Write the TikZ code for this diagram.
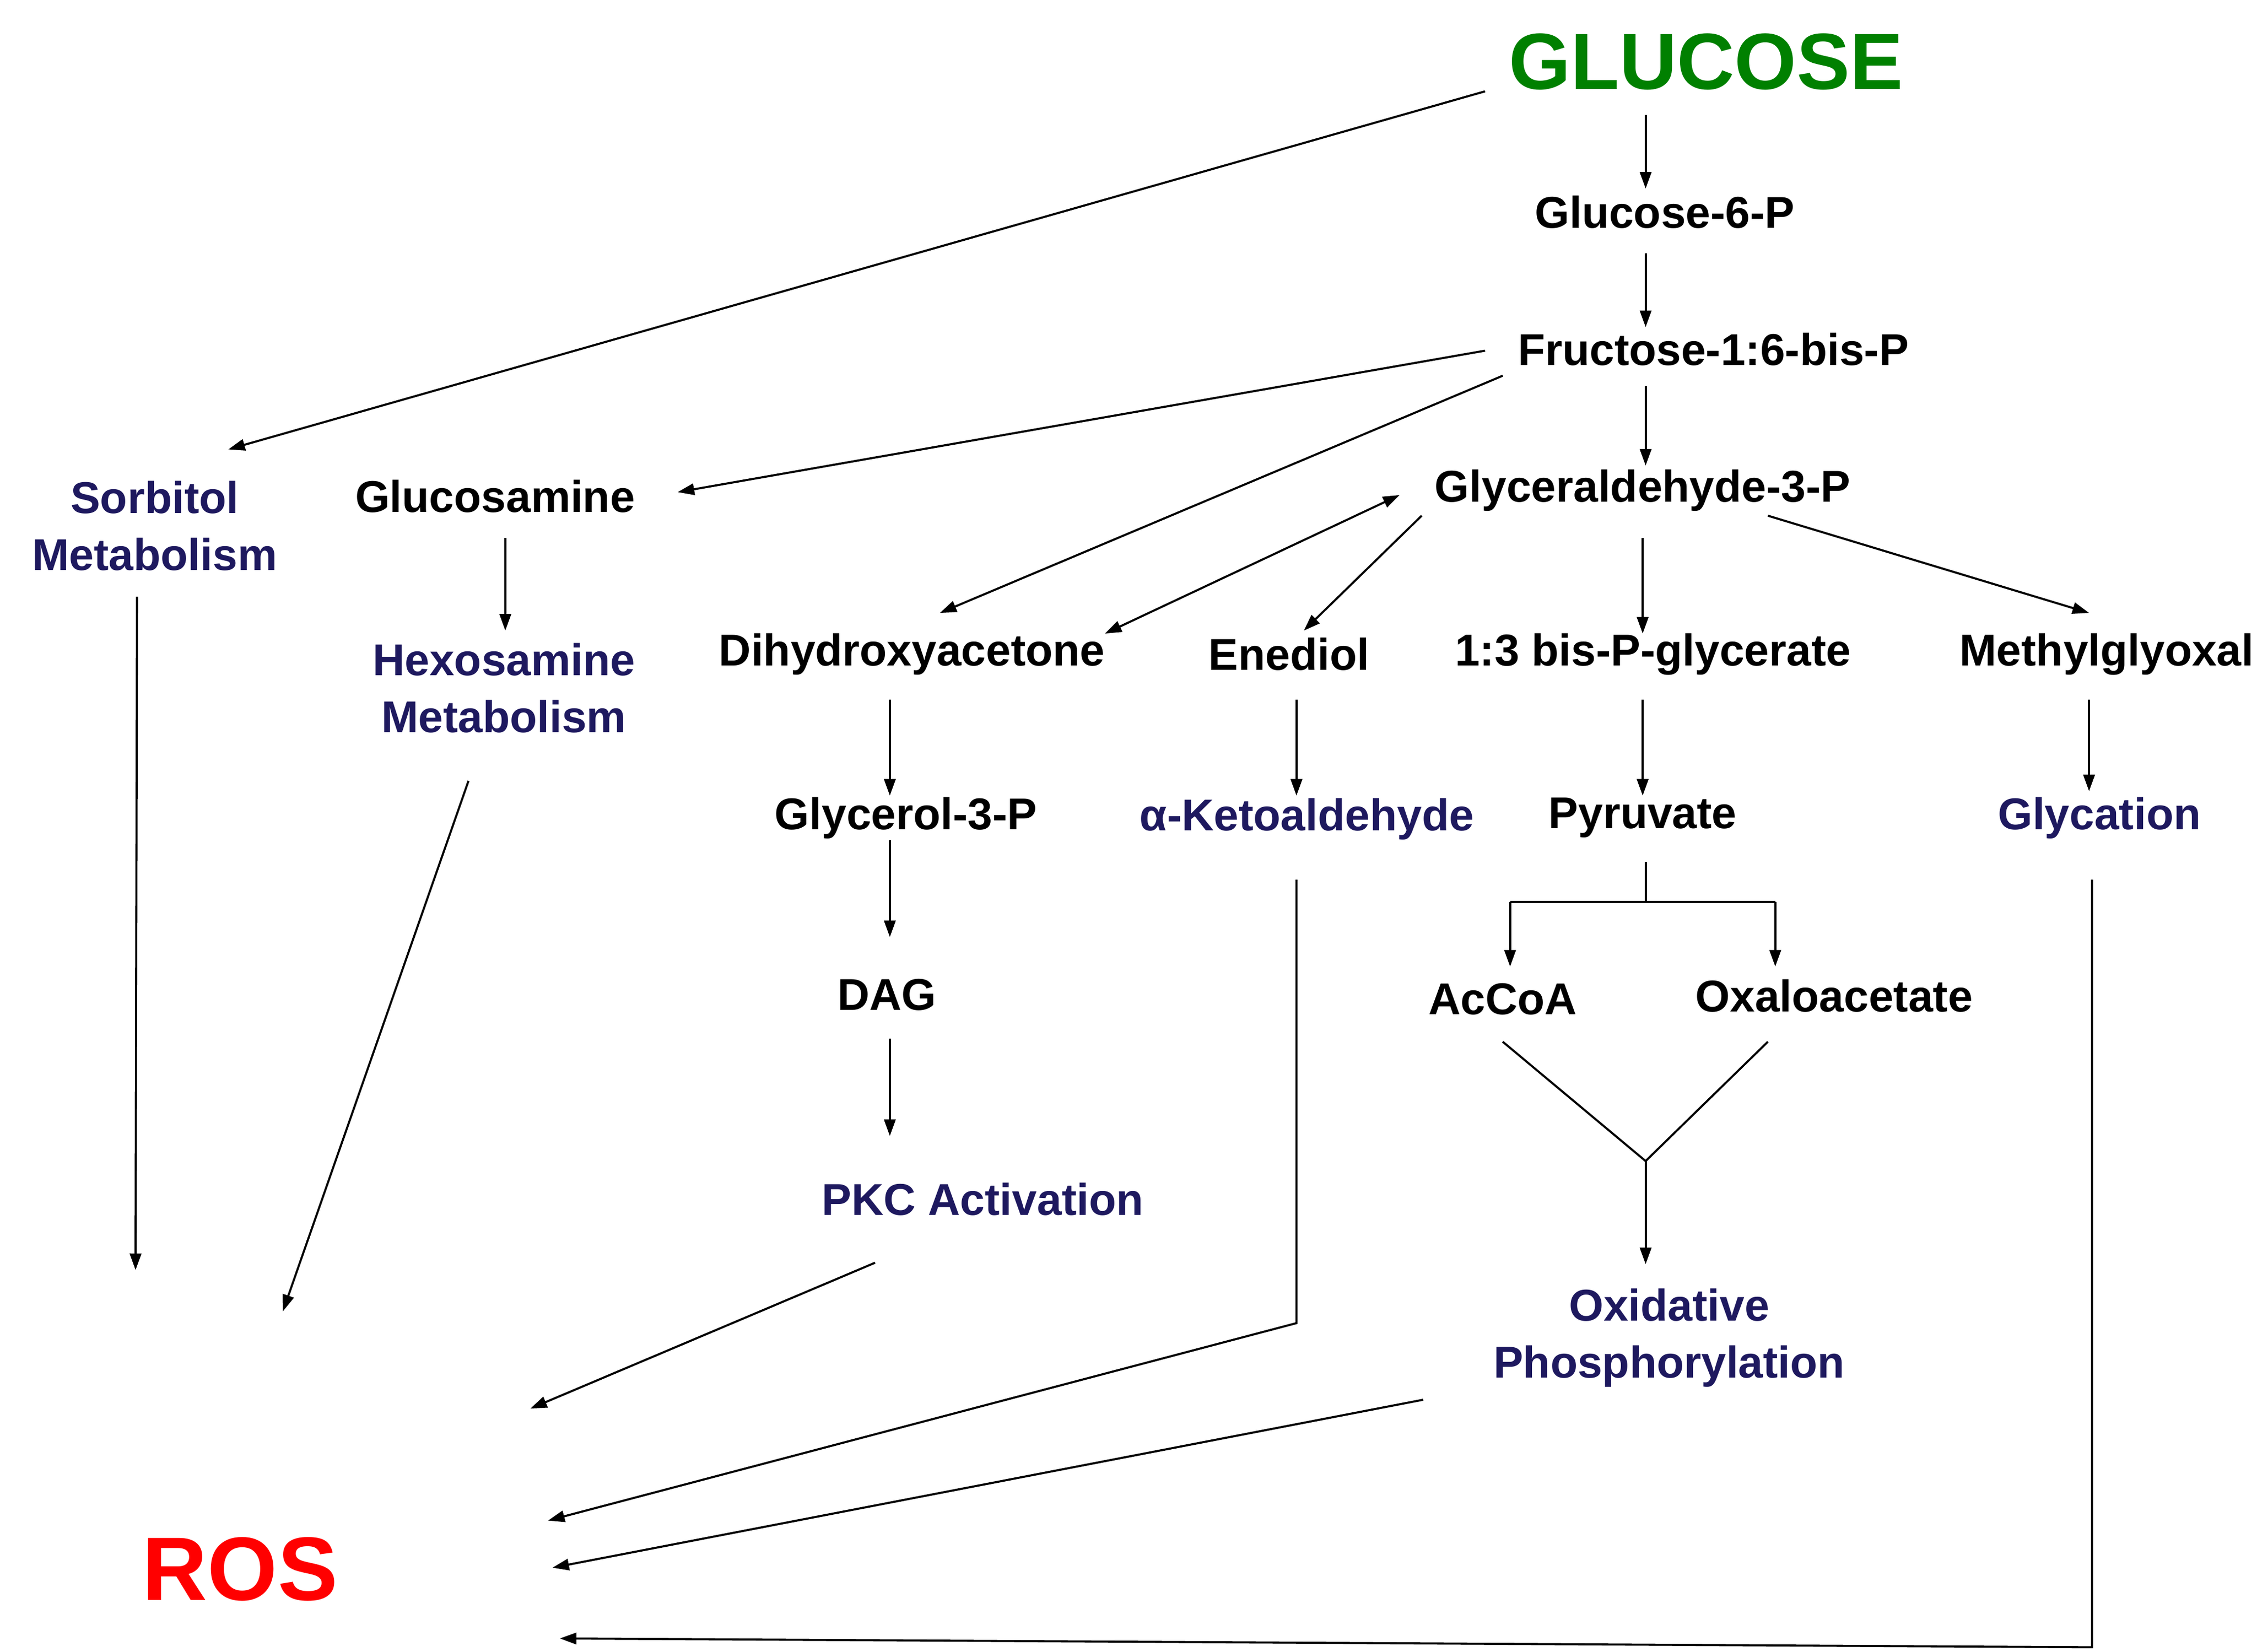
\documentclass[tikz,border=0pt]{standalone}
\usepackage{fontspec}
\setmainfont{Liberation Sans}
\usetikzlibrary{arrows.meta}
\definecolor{gl}{RGB}{0,128,0}
\definecolor{nv}{RGB}{30,25,95}
\begin{document}
\begin{tikzpicture}[x=0.05cm,y=-0.05cm,
  t/.style={font=\fontsize{43}{50}\selectfont\bfseries,text=black,inner sep=0pt,align=center},
  b/.style={t,text=nv},
  a/.style={line width=2pt,-{Triangle[length=16pt,width=11pt]}},
  l/.style={line width=2pt}]
\useasboundingbox (0,0) rectangle (1532,1121);
\node[t,text=gl,font=\fontsize{77}{80}\selectfont\bfseries] (glc) at (1158,42) {GLUCOSE};
\node[t] (g6p) at (1130,144) {Glucose-6-P};
\node[t] (fru) at (1163,237) {Fructose-1:6-bis-P};
\node[t] (gap) at (1115,333) {Glyceraldehyde-3-P};
\node[b,font=\fontsize{43}{55}\selectfont\bfseries] (sor) at (105,357) {Sorbitol\\Metabolism};
\node[t] (gla) at (336,337) {Glucosamine};
\node[b,font=\fontsize{43}{55}\selectfont\bfseries] (hex) at (342,467) {Hexosamine\\Metabolism};
\node[t] (dha) at (619,444) {Dihydroxyacetone};
\node[t] (ene) at (875,444) {Enediol};
\node[t] (bpg) at (1122,444) {1:3 bis-P-glycerate};
\node[t] (mgo) at (1430,444) {Methylglyoxal};
\node[t] (g3p) at (615,555) {Glycerol-3-P};
\node[b] (ket) at (887,556) {α-Ketoaldehyde};
\node[t] (pyr) at (1115,555) {Pyruvate};
\node[b] (gly) at (1425,555) {Glycation};
\node[t] (dag) at (602,675) {DAG};
\node[t] (acc) at (1020,678) {AcCoA};
\node[t] (oxa) at (1245,676) {Oxaloacetate};
\node[b] (pkc) at (667,814) {PKC Activation};
\node[b,font=\fontsize{43}{55}\selectfont\bfseries] (oxp) at (1133,908) {Oxidative\\Phosphorylation};
\node[t,text=red,font=\fontsize{87}{90}\selectfont\bfseries] (ros) at (163,1065) {ROS};
% main chain
\draw[a] (1117,78) -- (1117,128);
\draw[a] (1117,172) -- (1117,222);
\draw[a] (1117,262) -- (1117,316);
\draw[a] (1008,62) -- (155,305);
\draw[a] (1008,238) -- (460,334);
\draw[a] (1020,255) -- (638,416);
\draw[line width=2pt,{Triangle[length=16pt,width=11pt]}-{Triangle[length=16pt,width=11pt]}] (750,430) -- (950,336);
\draw[a] (965,350) -- (885,428);
\draw[a] (1115,365) -- (1115,430);
\draw[a] (1200,350) -- (1418,416);
\draw[a] (343,365) -- (343,428);
\draw[a] (604,475) -- (604,540);
\draw[a] (880,475) -- (880,540);
\draw[a] (1115,475) -- (1115,540);
\draw[a] (1418,475) -- (1418,537);
\draw[a] (604,570) -- (604,636);
\draw[a] (604,705) -- (604,771);
\draw[l] (1117,585) -- (1117,612);
\draw[l] (1025,612) -- (1205,612);
\draw[a] (1025,612) -- (1025,656);
\draw[a] (1205,612) -- (1205,656);
\draw[l] (1020,707) -- (1117,788) -- (1200,707);
\draw[a] (1117,788) -- (1117,858);
% to ROS
\draw[a] (93,405) -- (92,862);
\draw[a] (318,530) -- (192,890);
\draw[a] (594,857) -- (360,956);
\draw[a] (880,597) -- (880,898) -- (372,1032);
\draw[a] (966,950) -- (375,1064);
\draw[a] (1420,597) -- (1420,1118) -- (380,1112);
\end{tikzpicture}
\end{document}
